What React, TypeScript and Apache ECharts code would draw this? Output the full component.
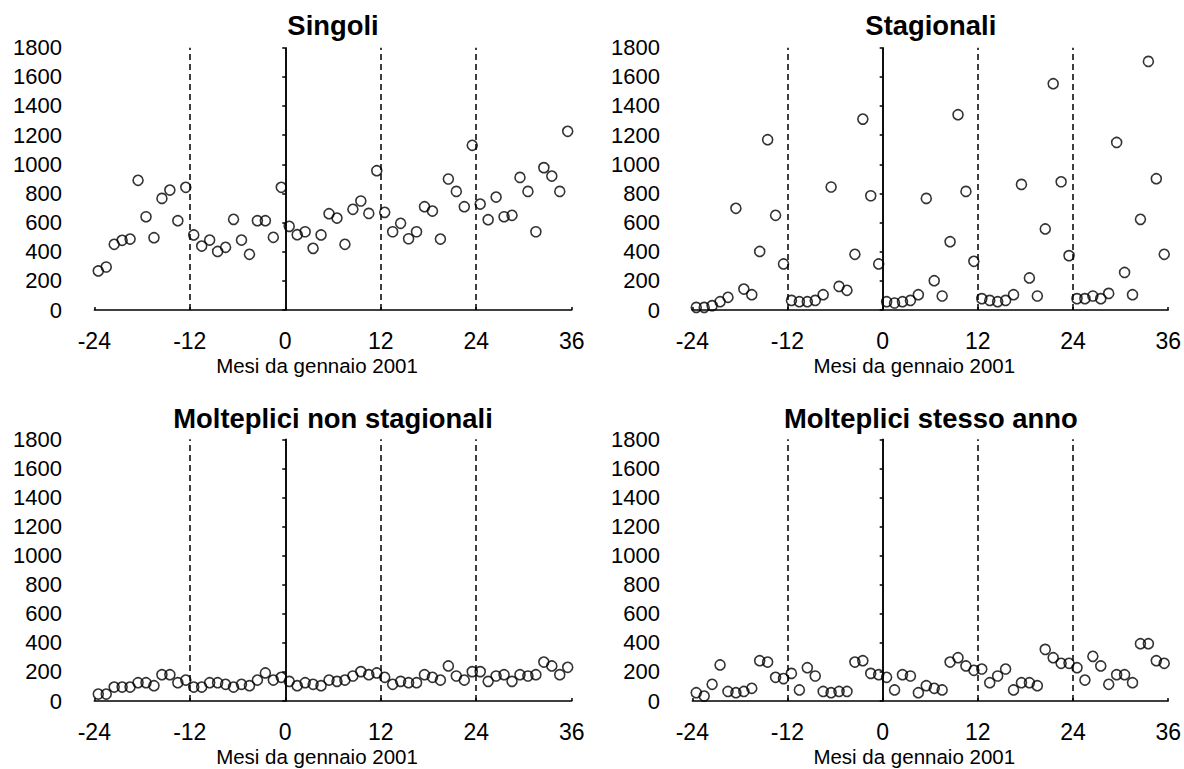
import React, { useEffect, useRef } from "react";
import * as echarts from "echarts";

// x positions (months from January 2001, plotted mid-month)
const months = [
  -23.5, -22.5, -21.5, -20.5, -19.5, -18.5, -17.5, -16.5, -15.5, -14.5,
  -13.5, -12.5, -11.5, -10.5, -9.5, -8.5, -7.5, -6.5, -5.5, -4.5,
  -3.5, -2.5, -1.5, -0.5, 0.5, 1.5, 2.5, 3.5, 4.5, 5.5,
  6.5, 7.5, 8.5, 9.5, 10.5, 11.5, 12.5, 13.5, 14.5, 15.5,
  16.5, 17.5, 18.5, 19.5, 20.5, 21.5, 22.5, 23.5, 24.5, 25.5,
  26.5, 27.5, 28.5, 29.5, 30.5, 31.5, 32.5, 33.5, 34.5, 35.5,
];

const singoli = [
  268, 295, 451, 478, 487, 890, 640, 496, 766, 823,
  613, 842, 515, 439, 480, 402, 430, 622, 480, 382,
  613, 613, 499, 842, 574, 517, 537, 423, 515, 661,
  631, 451, 691, 748, 663, 956, 670, 537, 595, 489,
  537, 709, 679, 487, 899, 814, 709, 1130, 727, 620,
  775, 640, 650, 910, 814, 537, 977, 919, 814, 1226,
];

const stagionali = [
  18, 18, 30, 57, 87, 698, 144, 105, 402, 1169,
  650, 316, 66, 57, 57, 66, 105, 844, 162, 135,
  382, 1310, 784, 316, 57, 48, 57, 66, 105, 766,
  201, 96, 469, 1340, 814, 334, 78, 66, 57, 66,
  105, 862, 220, 96, 556, 1553, 880, 373, 78, 78,
  96, 78, 114, 1150, 258, 105, 622, 1706, 901, 382,
];

const molteNonStagionali = [
  48, 48, 96, 96, 96, 126, 126, 105, 181, 181,
  126, 144, 96, 96, 126, 126, 115, 96, 115, 105,
  144, 193, 144, 163, 135, 105, 126, 115, 105, 144,
  135, 144, 172, 202, 181, 193, 163, 115, 135, 126,
  126, 181, 163, 144, 241, 172, 144, 202, 202, 135,
  172, 181, 135, 181, 172, 181, 268, 241, 181, 232,
];

const molteStessoAnno = [
  57, 34, 115, 248, 66, 57, 66, 87, 277, 268,
  163, 154, 190, 76, 229, 172, 66, 57, 66, 66,
  268, 277, 190, 181, 163, 76, 181, 172, 57, 105,
  87, 76, 268, 298, 241, 211, 220, 126, 172, 220,
  76, 126, 126, 105, 355, 298, 259, 259, 229, 144,
  307, 241, 115, 181, 181, 126, 394, 394, 277, 259,
];

const panelTitles = [
  "Singoli",
  "Stagionali",
  "Molteplici non stagionali",
  "Molteplici stesso anno",
];
const panelSeries = [singoli, stagionali, molteNonStagionali, molteStessoAnno];
const xAxisTitle = "Mesi da gennaio 2001";
const xMin = -24;
const xMax = 36;
const xStep = 12;
const yMin = 0;
const yMax = 1800;
const yStep = 200;
const dashedLines = [-12, 12, 24];
const solidLines = [0];

const FONT = "'Liberation Sans', Arial, Helvetica, sans-serif";

export default function App() {
  const ref = useRef<HTMLDivElement>(null);

  useEffect(() => {
    if (!ref.current) return;
    const chart = echarts.init(ref.current, undefined, { renderer: "svg" });

    const gridRects = [
      { left: 94.3, top: 47.7, width: 477.4, height: 262.3 },
      { left: 692.3, top: 47.7, width: 477, height: 262.3 },
      { left: 94.3, top: 439.3, width: 477.4, height: 261.7 },
      { left: 692.3, top: 439.3, width: 477, height: 261.7 },
    ];
    const titleTops = [11.5, 11.5, 404.5, 404.5];

    const axisLineStyle = { color: "#000", width: 1.5 };

    const option: any = {
      animation: false,
      backgroundColor: "#fff",
      title: panelTitles.map((t, i) => ({
        text: t,
        left: gridRects[i].left + gridRects[i].width / 2,
        top: titleTops[i],
        textAlign: "center",
        padding: 0,
        textStyle: {
          fontFamily: FONT,
          fontSize: 27.4,
          fontWeight: "bold",
          color: "#000",
        },
      })),
      grid: gridRects.map((r) => ({ ...r, containLabel: false })),
      xAxis: gridRects.map((_, i) => ({
        type: "value",
        gridIndex: i,
        min: xMin,
        max: xMax,
        interval: xStep,
        offset: 11.7,
        name: xAxisTitle,
        nameLocation: "middle",
        nameGap: 33.5,
        nameTextStyle: {
          fontFamily: FONT,
          fontSize: 20.5,
          color: "#000",
          padding: [0, 32, 0, 0],
        },
        axisLine: { show: true, lineStyle: axisLineStyle },
        axisTick: { show: true, inside: true, length: 3, lineStyle: axisLineStyle },
        axisLabel: {
          margin: 8,
          fontFamily: FONT,
          fontSize: 23,
          color: "#000",
          formatter: (v: number) => String(v),
        },
        splitLine: { show: false },
      })),
      yAxis: gridRects.map((_, i) => ({
        type: "value",
        gridIndex: i,
        min: yMin,
        max: yMax,
        interval: yStep,
        offset: 20.4,
        axisLine: { show: true, lineStyle: axisLineStyle },
        axisTick: { show: true, length: 3, lineStyle: axisLineStyle },
        axisLabel: {
          margin: 12,
          fontFamily: FONT,
          fontSize: 22,
          color: "#000",
          formatter: (v: number) => String(v),
        },
        splitLine: { show: false },
      })),
      series: panelSeries.map((vals, i) => ({
        type: "scatter",
        xAxisIndex: i,
        yAxisIndex: i,
        symbol: "circle",
        symbolSize: 10,
        itemStyle: {
          color: "rgba(0,0,0,0)",
          borderColor: "#000",
          borderWidth: 1.6,
        },
        data: months.map((m, j) => [m, vals[j]]),
        markLine: {
          silent: true,
          symbol: ["none", "none"],
          label: { show: false },
          data: [
            ...dashedLines.map((x) => ({
              xAxis: x,
              lineStyle: { color: "#000", width: 1.5, type: [6, 4] },
            })),
            ...solidLines.map((x) => ({
              xAxis: x,
              lineStyle: { color: "#000", width: 1.5, type: "solid" },
            })),
          ],
        },
      })),
    };

    chart.setOption(option);
    return () => chart.dispose();
  }, []);

  return (
    <div
      ref={ref}
      style={{ position: "fixed", left: 0, top: 0, width: 1184, height: 769, background: "#fff" }}
    />
  );
}
